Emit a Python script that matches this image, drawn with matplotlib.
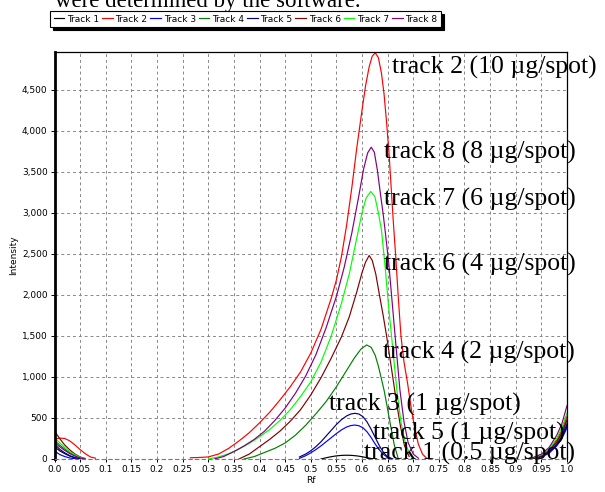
import numpy as np
import matplotlib
matplotlib.use("Agg")
import matplotlib.pyplot as plt
from matplotlib.ticker import FuncFormatter, FixedLocator

nan = np.nan

# ---- data (Rf, intensity); nan separates the drawn segments ----
end_x = [0.92, 0.935, 0.95, 0.965, 0.98, 0.99, 1.0]

t1_x = [0.0, 0.01, 0.02, 0.03, 0.04, 0.05, nan,
        0.52, 0.53, 0.54, 0.55, 0.56, 0.57, 0.58, 0.59, 0.60, 0.61, 0.62, nan] + end_x
t1_y = [150, 100, 65, 35, 15, 3, nan,
        0, 15, 28, 38, 44, 46, 44, 38, 28, 15, 3, nan,
        0, 10, 30, 80, 170, 260, 400]

t2_x = [0.003, 0.01, 0.02, 0.03, 0.04, 0.05, 0.06, 0.07, 0.08, nan,
        0.265, 0.28, 0.30, 0.32, 0.34, 0.36, 0.38, 0.40, 0.42, 0.44, 0.46, 0.48, 0.50, 0.52, 0.54,
        0.55, 0.56, 0.57, 0.58, 0.59, 0.60, 0.607, 0.614, 0.62, 0.626, 0.632, 0.638, 0.643, 0.648,
        0.653, 0.657, 0.661, 0.666, 0.671, 0.676, 0.682, 0.689, 0.696, 0.703, 0.71, 0.718, 0.726, nan] + end_x
t2_y = [245, 255, 250, 220, 170, 115, 65, 25, 10, nan,
        15, 18, 25, 60, 130, 220, 320, 440, 570, 720, 880, 1060, 1290, 1580, 1960,
        2180, 2470, 2850, 3300, 3800, 4250, 4550, 4780, 4910, 4950, 4890, 4700, 4450, 4100,
        3700, 3300, 2900, 2450, 1950, 1500, 1180, 920, 620, 370, 180, 60, 10, nan,
        0, 15, 45, 110, 230, 350, 520]

t3_x = [0.0, 0.01, 0.02, 0.03, 0.04, nan,
        0.478, 0.49, 0.50, 0.51, 0.52, 0.53, 0.54, 0.55, 0.56, 0.57, 0.578, 0.586, 0.594, 0.602,
        0.61, 0.618, 0.626, 0.634, 0.642, 0.65, 0.66, nan] + end_x
t3_y = [100, 55, 30, 12, 3, nan,
        8, 40, 75, 115, 160, 210, 260, 310, 355, 390, 407, 414, 405, 380,
        330, 260, 180, 110, 55, 20, 3, nan,
        0, 8, 25, 70, 160, 250, 380]

t4_x = [0.0, 0.01, 0.02, 0.03, 0.04, 0.05, 0.06, nan,
        0.37, 0.39, 0.41, 0.43, 0.45, 0.47, 0.49, 0.51, 0.53, 0.55, 0.57, 0.585, 0.598, 0.609,
        0.618, 0.626, 0.632, 0.637, 0.643, 0.649, 0.656, 0.663, 0.67, nan] + end_x
t4_y = [230, 170, 120, 75, 40, 15, 3, nan,
        0, 30, 80, 130, 195, 290, 410, 550, 700, 880, 1080, 1230, 1340, 1390,
        1360, 1260, 1130, 1000, 840, 640, 400, 170, 20, nan,
        0, 12, 38, 95, 200, 310, 470]

t5_x = [0.0, 0.01, 0.02, 0.03, 0.04, 0.05, nan,
        0.478, 0.49, 0.50, 0.51, 0.52, 0.53, 0.54, 0.55, 0.56, 0.57, 0.578, 0.586, 0.594, 0.602,
        0.61, 0.618, 0.626, 0.634, 0.642, 0.65, 0.658, nan] + end_x
t5_y = [180, 120, 75, 40, 15, 3, nan,
        25, 60, 100, 150, 210, 280, 350, 420, 480, 525, 548, 557, 548, 515,
        450, 360, 260, 160, 80, 25, 3, nan,
        0, 10, 33, 85, 180, 280, 430]

t6_x = [0.0, 0.01, 0.02, 0.03, 0.04, 0.05, 0.06, nan,
        0.36, 0.38, 0.40, 0.42, 0.44, 0.46, 0.48, 0.50, 0.52, 0.54, 0.56, 0.575, 0.59, 0.60, 0.607,
        0.614, 0.62, 0.627, 0.634, 0.641, 0.648, 0.654, 0.66, 0.667, 0.675, 0.683, 0.692, nan] + end_x
t6_y = [340, 250, 170, 110, 60, 25, 5, nan,
        0, 60, 150, 240, 340, 460, 600, 780, 990, 1230, 1490, 1730, 2040, 2270, 2400,
        2480, 2420, 2250, 2000, 1760, 1500, 1250, 1000, 700, 400, 160, 30, nan,
        0, 12, 40, 100, 210, 320, 480]

t7_x = [0.0, 0.01, 0.02, 0.03, 0.04, 0.05, 0.06, nan,
        0.30, 0.32, 0.34, 0.36, 0.38, 0.40, 0.42, 0.44, 0.46, 0.48, 0.50, 0.52, 0.54, 0.56, 0.575,
        0.59, 0.60, 0.608, 0.617, 0.625, 0.632, 0.638, 0.645, 0.652, 0.66, 0.668, 0.676, 0.685,
        0.695, 0.703, nan] + end_x
t7_y = [260, 200, 140, 90, 50, 20, 5, nan,
        0, 25, 65, 120, 190, 270, 360, 470, 600, 760, 940, 1180, 1500, 1900, 2250,
        2700, 3000, 3180, 3260, 3200, 3000, 2790, 2350, 1850, 1350, 840, 450, 180,
        40, 5, nan,
        0, 18, 50, 120, 250, 380, 560]

t8_x = [0.0, 0.01, 0.02, 0.03, 0.04, 0.05, 0.06, nan,
        0.312, 0.33, 0.35, 0.37, 0.39, 0.41, 0.43, 0.45, 0.47, 0.49, 0.51, 0.53, 0.55, 0.565, 0.58,
        0.593, 0.603, 0.611, 0.618, 0.624, 0.63, 0.636, 0.641, 0.645, 0.652, 0.659, 0.666, 0.674,
        0.682, 0.69, 0.70, 0.71, nan] + end_x
t8_y = [200, 150, 105, 65, 35, 12, 2, nan,
        0, 30, 90, 160, 240, 340, 470, 620, 800, 1010, 1270, 1600, 1980, 2330, 2750,
        3180, 3530, 3730, 3800, 3740, 3520, 3230, 3000, 2790, 2400, 1900, 1400, 840,
        450, 200, 60, 10, nan,
        0, 20, 60, 140, 290, 430, 650]

track_names = ["Track 1", "Track 2", "Track 3", "Track 4", "Track 5", "Track 6", "Track 7", "Track 8"]
track_colors = ["#000000", "#ff0000", "#0000ff", "#008000", "#000080", "#800000", "#00ff00", "#800080"]
series_x = [t1_x, t2_x, t3_x, t4_x, t5_x, t6_x, t7_x, t8_x]
series_y = [t1_y, t2_y, t3_y, t4_y, t5_y, t6_y, t7_y, t8_y]

ann_texts = ["track 2 (10 µg/spot)", "track 8 (8 µg/spot)", "track 7 (6 µg/spot)", "track 6 (4 µg/spot)",
             "track 4 (2 µg/spot)", "track 3 (1 µg/spot)", "track 5 (1 µg/spot)", "track 1 (0.5 µg/spot)"]
ann_x = [0.659, 0.643, 0.643, 0.643, 0.641, 0.536, 0.622, 0.604]
ann_y = [4768, 3732, 3159, 2366, 1293, 659, 317, 73]

x_ticks = [round(0.05 * i, 2) for i in range(21)]
x_tick_labels = ["0.0", "0.05", "0.1", "0.15", "0.2", "0.25", "0.3", "0.35", "0.4", "0.45", "0.5",
                 "0.55", "0.6", "0.65", "0.7", "0.75", "0.8", "0.85", "0.9", "0.95", "1.0"]
y_ticks = [0, 500, 1000, 1500, 2000, 2500, 3000, 3500, 4000, 4500]

# ---- figure ----
W, H = 605, 492
fig = plt.figure(figsize=(W / 100, H / 100), dpi=100)
ax = fig.add_axes([54.5 / W, 1 - 459 / H, (567 - 54.5) / W, (459 - 52) / H])

for xs, ys, c, n in zip(series_x, series_y, track_colors, track_names):
    ax.plot(xs, ys, color=c, lw=0.85, label=n, solid_joinstyle="round")

ax.set_xlim(0, 1.0)
ax.set_ylim(0, 4960)
ax.xaxis.set_major_locator(FixedLocator(x_ticks))
ax.set_xticklabels(x_tick_labels)
ax.yaxis.set_major_locator(FixedLocator(y_ticks))
ax.yaxis.set_major_formatter(FuncFormatter(lambda v, p: f"{int(v):,}"))
ax.grid(True, color="#888888", ls=(0, (3, 3)), lw=0.7)
ax.tick_params(axis="both", labelsize=6.5, length=3, width=0.7, colors="#000000", pad=2)
ax.tick_params(axis="x", direction="out", length=2)

for s in ["top", "right"]:
    ax.spines[s].set_linewidth(0.9)
ax.spines["left"].set_linewidth(2.0)
ax.spines["bottom"].set_linewidth(0.8)
ax.spines["bottom"].set_color("#777777")
ax.spines["bottom"].set_linestyle((0, (3, 3)))

ax.set_xlabel("Rf", fontsize=6.5, labelpad=2)
ax.set_ylabel("Intensity", fontsize=6.5, labelpad=3)

for t, x, y in zip(ann_texts, ann_x, ann_y):
    ax.text(x, y, t, fontsize=18.5, family="Liberation Serif", va="center", ha="left", clip_on=False, zorder=5)

handles, labels = ax.get_legend_handles_labels()
leg = fig.legend(handles, labels, loc="upper left", bbox_to_anchor=(50 / W, 1 - 11 / H), ncol=8,
                 fontsize=6.5, frameon=True, fancybox=False, edgecolor="black", framealpha=1,
                 shadow={"color": "black", "alpha": 1}, handlelength=1.2, handletextpad=0.3,
                 columnspacing=0.3, borderpad=0.4, borderaxespad=0)
leg.get_frame().set_linewidth(0.8)

fig.text(55 / W, 1 - 7 / H, "were determined by the software.", family="Liberation Serif",
         fontsize=16.5, va="baseline", ha="left")

fig.savefig("out.png", dpi=100)
